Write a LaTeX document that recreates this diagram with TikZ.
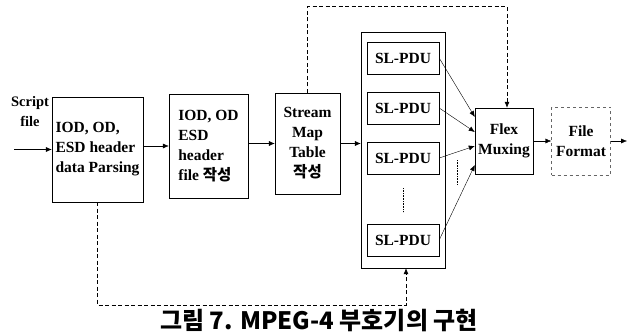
\documentclass[tikz,border=0pt]{standalone}
\usepackage{fontspec}
\setmainfont{Liberation Serif}
\newfontfamily\kor{Noto Sans CJK KR}
\usetikzlibrary{arrows.meta,calc}

\tikzset{
  blk/.style={draw, thin, inner sep=2pt, align=left, font=\bfseries\fontsize{15.5}{20}\selectfont},
  pdu/.style={blk, minimum width=72pt, minimum height=32pt, align=center},
  arr/.style={-{Latex[length=6pt,width=5pt]}, thin},
  dsh/.style={arr, semithick, dash pattern=on 4pt off 2.5pt}
}

\begin{document}
\begin{tikzpicture}[x=1pt, y=-1pt]
\useasboundingbox (0,0) rectangle (628,334);
%input
\node[font=\bfseries\fontsize{14.5}{20}\selectfont, align=center] (script) at (30,112) {Script\\file};
\coordinate (in) at (14,146);
%processing blocks
\node[blk, minimum width=91pt, minimum height=105pt] (parse) at (97.5,149.5) {IOD, OD,\\ESD header\\data Parsing};
\node[blk, minimum width=79pt, minimum height=104pt] (iod) at (208.5,146) {IOD, OD\\ESD\\header\\file {\kor 작성}};
\node[blk, minimum width=65pt, minimum height=101pt, align=center] (smt) at (307.5,143.5) {Stream\\Map\\Table\\{\kor 작성}};
%SL-PDU column
\node[draw, thin, minimum width=84pt, minimum height=236pt] (slc) at (403,150) {};
\node[pdu] (pdu1) at (403,58) {SL-PDU};
\node[pdu] (pdu2) at (403,108) {SL-PDU};
\node[pdu] (pdu3) at (403,158) {SL-PDU};
\node[pdu] (pdu4) at (403,240) {SL-PDU};
\draw[densely dotted, semithick] (pdu3.south) ++(0,14) -- +(0,24);
%mux and output
\node[blk, minimum width=58pt, minimum height=66pt, align=center] (flex) at (504,141) {Flex\\Muxing};
\node[blk, draw=black!60, dashed, minimum width=59pt, minimum height=68pt, align=center] (ff) at (581,141) {File\\Format};
\coordinate (out) at (627,141);

%connections
\draw[arr] (in |- parse.east) -- (parse.east -| parse.west);
\draw[arr] (parse.east |- iod.west) -- (iod.west);
\draw[arr] (iod.east |- smt.west) -- (smt.west);
\draw[arr] (smt.east) -- (smt.east -| slc.west);
\foreach \i/\dy in {1/-24,2/-9,3/5,4/24}
  \draw[arr] (pdu\i.east) -- ($(flex.west)+(0,\dy)$);
\draw[densely dotted, semithick] ($(flex.west)+(-18,19)$) -- +(0,25);
\draw[arr] (flex.east) -- (ff.west);
\draw[arr] (ff.east) -- (out);
%feedback paths
\draw[dsh] (smt.north) -- ++(0,-86) -| ($(flex.north)+(3,0)$);
\draw[dsh] (parse.south) -- ++(0,103) -| ($(slc.south)+(3,0)$);

%caption
\node[font=\kor\bfseries\fontsize{24}{26}\selectfont] (cap) at (319,320) {그림 7. MPEG-4 부호기의 구현};
\end{tikzpicture}
\end{document}
